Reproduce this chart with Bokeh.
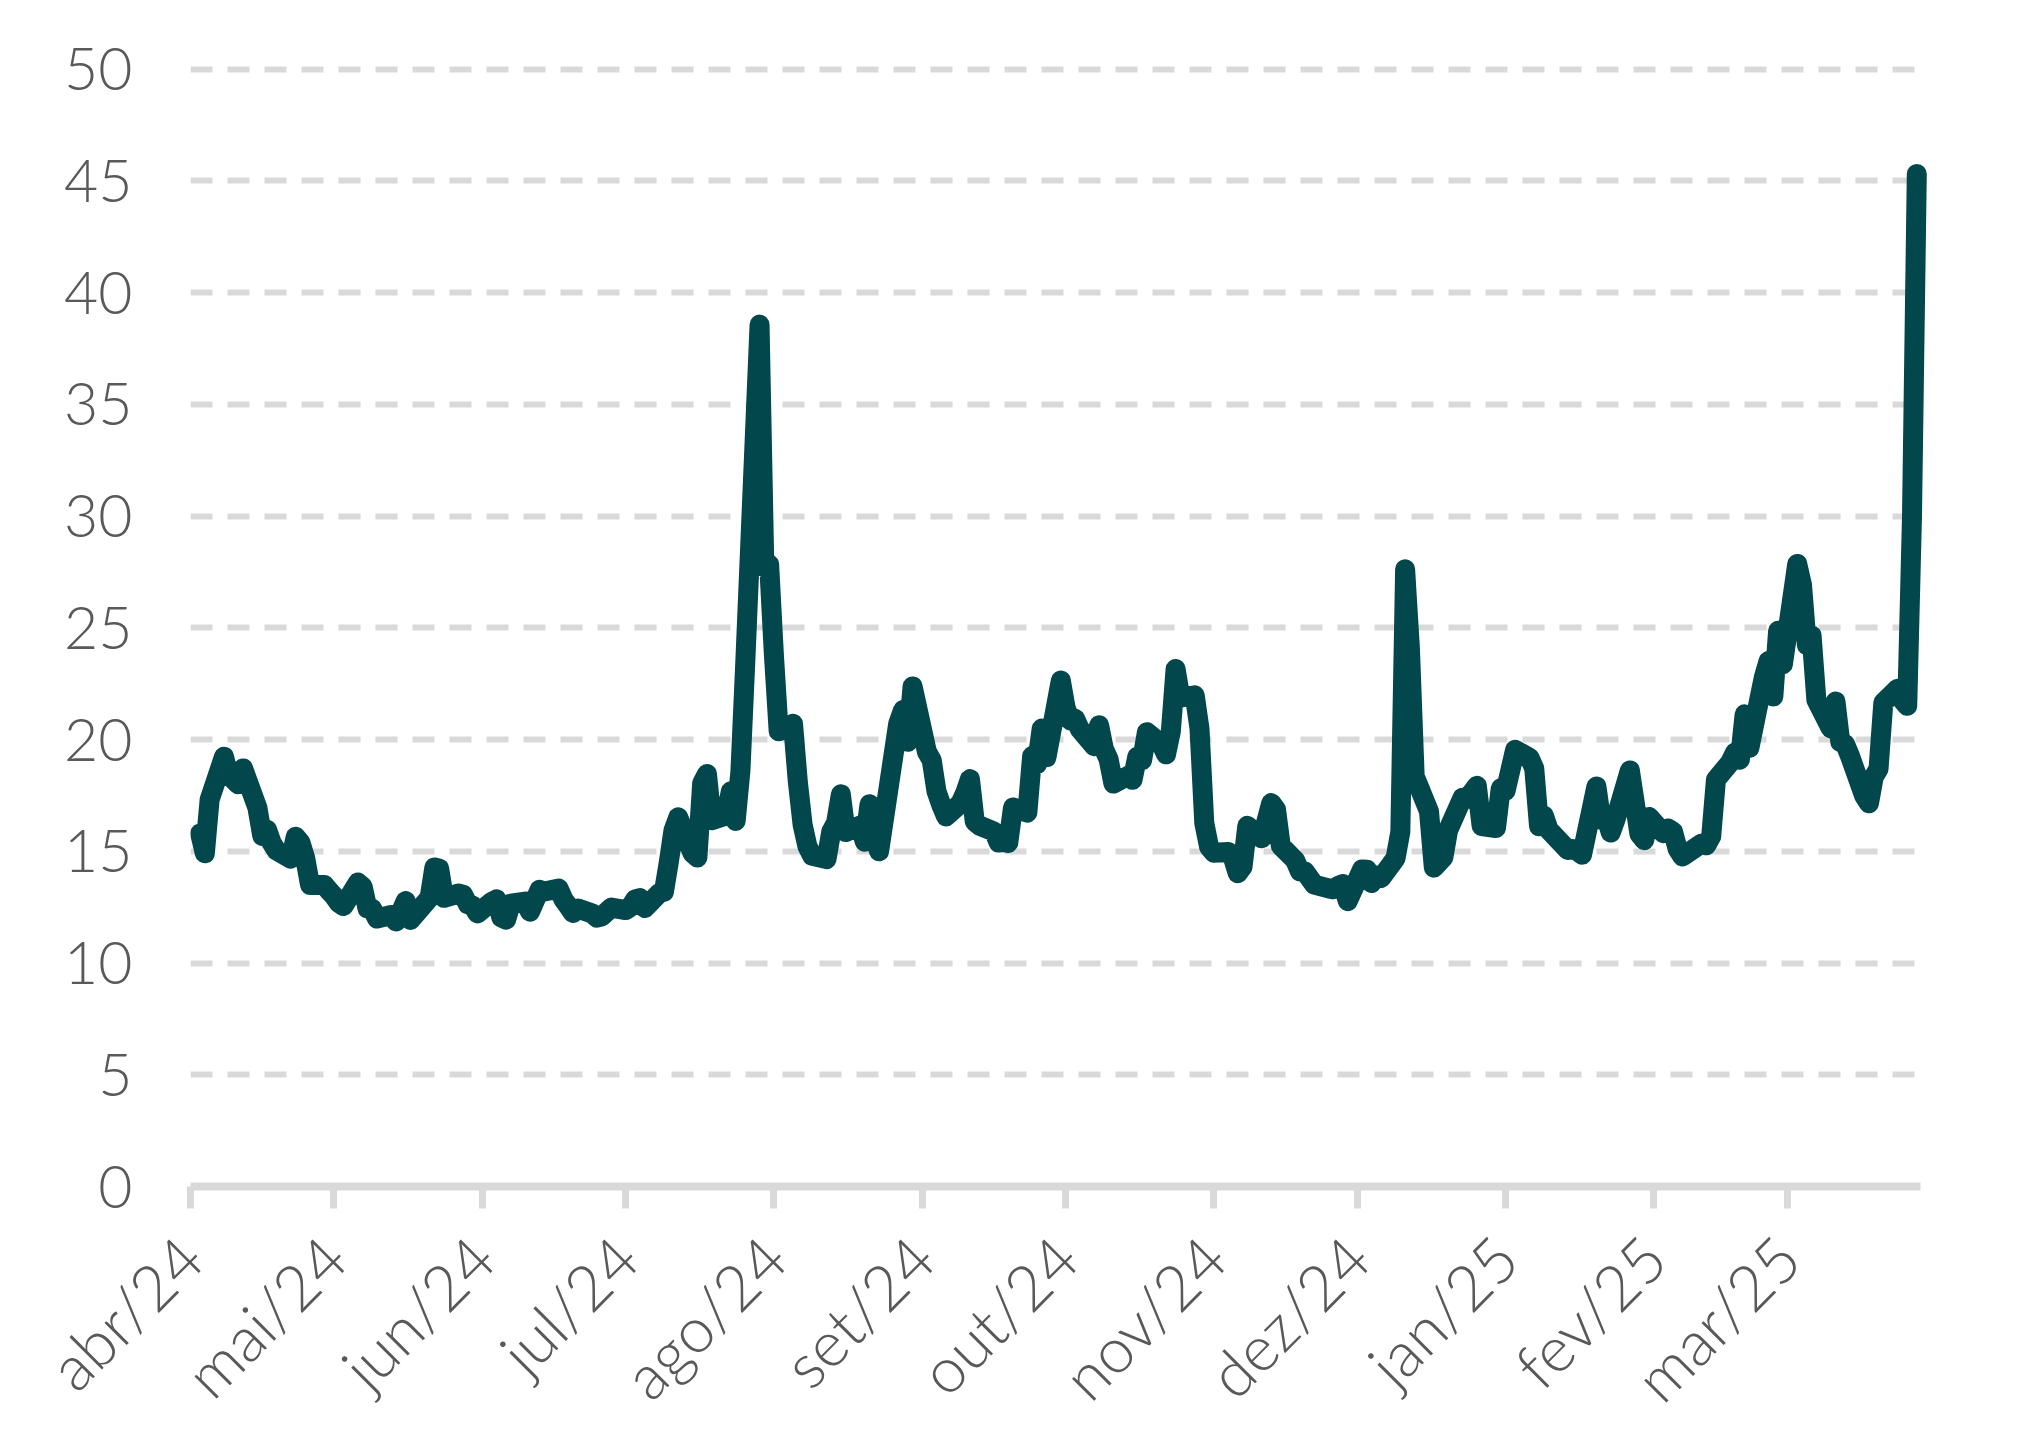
import math
import pandas as pd
from bokeh.plotting import figure
from bokeh.models import FixedTicker, Range1d, ColumnDataSource
from bokeh.embed import file_html
from bokeh.resources import INLINE

# ---- dados (datas como aparecem no gráfico, valores diários) ----
datas = [
    "2024-04-03", "2024-04-04", "2024-04-05", "2024-04-08", "2024-04-09", "2024-04-10", "2024-04-11", "2024-04-12",
    "2024-04-15", "2024-04-16", "2024-04-17", "2024-04-18", "2024-04-19", "2024-04-22", "2024-04-23", "2024-04-24",
    "2024-04-25", "2024-04-26", "2024-04-29", "2024-04-30",
    "2024-05-01", "2024-05-02", "2024-05-03", "2024-05-06", "2024-05-07", "2024-05-08", "2024-05-09", "2024-05-10",
    "2024-05-13", "2024-05-14", "2024-05-15", "2024-05-16", "2024-05-17", "2024-05-21", "2024-05-22", "2024-05-23",
    "2024-05-24", "2024-05-27", "2024-05-28", "2024-05-29", "2024-05-30", "2024-05-31",
    "2024-06-03", "2024-06-04", "2024-06-05", "2024-06-06", "2024-06-07", "2024-06-10", "2024-06-11", "2024-06-13",
    "2024-06-14", "2024-06-17", "2024-06-18", "2024-06-19", "2024-06-20", "2024-06-21", "2024-06-24", "2024-06-25",
    "2024-06-26", "2024-06-28",
    "2024-07-01", "2024-07-02", "2024-07-03", "2024-07-04", "2024-07-05", "2024-07-08", "2024-07-09", "2024-07-10",
    "2024-07-11", "2024-07-12", "2024-07-15", "2024-07-16", "2024-07-17", "2024-07-18", "2024-07-19", "2024-07-22",
    "2024-07-23", "2024-07-24", "2024-07-25", "2024-07-26", "2024-07-29", "2024-07-30", "2024-07-31",
    "2024-08-01", "2024-08-02", "2024-08-05", "2024-08-06", "2024-08-07", "2024-08-08", "2024-08-09", "2024-08-12",
    "2024-08-13", "2024-08-14", "2024-08-15", "2024-08-16", "2024-08-19", "2024-08-20", "2024-08-21", "2024-08-22",
    "2024-08-23", "2024-08-27", "2024-08-28", "2024-08-29", "2024-08-30",
    "2024-09-02", "2024-09-03", "2024-09-04", "2024-09-05", "2024-09-06", "2024-09-09", "2024-09-10", "2024-09-11",
    "2024-09-12", "2024-09-13", "2024-09-16", "2024-09-17", "2024-09-18", "2024-09-19", "2024-09-20", "2024-09-23",
    "2024-09-24", "2024-09-25", "2024-09-26", "2024-09-27", "2024-09-30",
    "2024-10-01", "2024-10-02", "2024-10-03", "2024-10-04", "2024-10-07", "2024-10-08", "2024-10-09", "2024-10-10",
    "2024-10-11", "2024-10-14", "2024-10-15", "2024-10-16", "2024-10-17", "2024-10-18", "2024-10-21", "2024-10-22",
    "2024-10-23", "2024-10-24", "2024-10-25", "2024-10-28", "2024-10-29", "2024-10-30", "2024-10-31",
    "2024-11-01", "2024-11-04", "2024-11-05", "2024-11-06", "2024-11-07", "2024-11-08", "2024-11-11", "2024-11-12",
    "2024-11-13", "2024-11-14", "2024-11-15", "2024-11-18", "2024-11-19", "2024-11-20", "2024-11-22", "2024-11-25",
    "2024-11-26", "2024-11-27", "2024-11-28", "2024-11-29",
    "2024-12-02", "2024-12-03", "2024-12-04", "2024-12-05", "2024-12-06", "2024-12-09", "2024-12-10", "2024-12-11",
    "2024-12-12", "2024-12-13", "2024-12-16", "2024-12-17", "2024-12-19", "2024-12-20", "2024-12-23", "2024-12-24",
    "2024-12-26", "2024-12-27", "2024-12-30", "2024-12-31",
    "2025-01-01", "2025-01-03", "2025-01-06", "2025-01-07", "2025-01-08", "2025-01-09", "2025-01-10", "2025-01-14",
    "2025-01-15", "2025-01-16", "2025-01-17", "2025-01-20", "2025-01-21", "2025-01-22", "2025-01-23", "2025-01-24",
    "2025-01-27", "2025-01-28", "2025-01-29", "2025-01-30", "2025-01-31",
    "2025-02-03", "2025-02-04", "2025-02-05", "2025-02-06", "2025-02-07", "2025-02-11", "2025-02-12", "2025-02-13",
    "2025-02-14", "2025-02-17", "2025-02-18", "2025-02-19", "2025-02-20", "2025-02-21", "2025-02-24", "2025-02-25",
    "2025-02-26", "2025-02-27", "2025-02-28",
    "2025-03-03", "2025-03-04", "2025-03-05", "2025-03-06", "2025-03-07", "2025-03-10", "2025-03-11", "2025-03-12",
    "2025-03-13", "2025-03-14", "2025-03-17", "2025-03-18", "2025-03-19", "2025-03-20", "2025-03-21", "2025-03-24",
    "2025-03-25", "2025-03-26", "2025-03-27", "2025-03-28",
]

valores = [
    15.80, 14.91, 17.31, 19.23, 18.40, 18.21, 18.00, 18.71, 16.94, 15.69, 15.97, 15.37, 15.03, 14.67, 15.65, 15.39,
    14.68, 13.49, 13.49, 13.23,
    13.00, 12.69, 12.55, 13.60, 13.42, 12.45, 12.42, 11.99, 12.15, 11.86, 12.29, 12.77, 11.93, 12.92, 14.28, 14.22,
    12.92, 13.11, 13.06, 12.63, 12.58, 12.22,
    12.74, 12.85, 12.04, 11.94, 12.66, 12.75, 12.30, 13.28, 13.20, 13.33, 12.84, 12.55, 12.24, 12.44, 12.22, 12.03,
    12.09, 12.48,
    12.37, 12.51, 12.85, 12.91, 12.46, 13.12, 13.19, 14.48, 15.93, 16.52, 14.91, 14.72, 18.04, 18.46, 16.39, 16.60,
    17.69, 16.36, 18.59, 23.39, 38.57, 27.71, 27.85,
    23.79, 20.37, 20.71, 18.12, 16.19, 15.23, 14.80, 14.65, 15.88, 16.27, 17.55, 15.86, 16.15, 15.43, 17.11, 15.65,
    15.00, 20.72, 21.32, 19.90, 22.38,
    19.45, 19.08, 17.69, 17.07, 16.56, 17.14, 17.61, 18.23, 16.33, 16.15, 15.89, 15.39, 15.41, 15.37, 16.96, 16.73,
    19.26, 18.90, 20.49, 19.21, 22.64,
    21.42, 20.86, 20.93, 20.46, 19.70, 20.64, 19.58, 19.11, 18.03, 18.37, 18.20, 19.24, 19.08, 20.33, 19.80, 19.34,
    20.35, 23.16, 21.88, 21.98, 20.49, 16.27, 15.20,
    14.94, 14.97, 14.71, 14.02, 14.31, 16.14, 15.58, 16.35, 17.16, 16.87, 15.24, 14.60, 14.10, 14.10, 13.51, 13.34,
    13.30, 13.45, 13.54, 12.77,
    14.19, 14.18, 13.58, 13.92, 13.81, 14.69, 15.87, 27.62, 24.09, 18.36, 16.78, 14.27, 14.73, 15.95, 17.40, 17.35,
    17.93, 16.13, 16.04, 17.82,
    17.70, 19.54, 19.19, 18.71, 16.12, 16.60, 15.97, 15.06, 15.10, 15.02, 14.85, 17.90, 16.41, 16.56, 15.84, 16.43,
    18.62, 17.21, 15.77, 15.50, 16.54,
    15.81, 16.02, 15.89, 15.10, 14.77, 15.35, 15.27, 15.66, 18.21, 18.98, 19.43, 19.10, 21.13, 19.63, 22.78, 23.51,
    21.93, 24.87, 23.37,
    27.86, 26.92, 24.23, 24.66, 21.77, 20.51, 21.70, 19.90, 19.80, 19.28, 17.48, 17.15, 18.33, 18.69, 21.65, 22.28,
    21.77, 21.51, 30.02, 45.31,
]

meses_ticks = [
    "2024-04-01", "2024-05-01", "2024-06-01", "2024-07-01", "2024-08-01", "2024-09-01",
    "2024-10-01", "2024-11-01", "2024-12-01", "2025-01-01", "2025-02-01", "2025-03-01",
]
meses_rotulos = ["abr/24", "mai/24", "jun/24", "jul/24", "ago/24", "set/24",
                 "out/24", "nov/24", "dez/24", "jan/25", "fev/25", "mar/25"]
y_ticks = [0, 5, 10, 15, 20, 25, 30, 35, 40, 45, 50]

# ---- figura ----
x = pd.to_datetime(datas)
src = ColumnDataSource(dict(x=x, y=valores))

x_inicio = pd.Timestamp("2024-04-01")
x_fim = pd.Timestamp("2025-03-30 05:45")
fim_eixo = pd.Timestamp(datas[-1]) + pd.Timedelta(hours=18)

FONTE = "Lato Light"
COR_TEXTO = "#595959"
CINZA = "#d9d9d9"

p = figure(width=2032, height=1444, x_axis_type="datetime",
           x_range=Range1d(x_inicio, x_fim), y_range=Range1d(0, 50.3),
           output_backend="svg", toolbar_location=None,
           min_border_left=190, min_border_right=105,
           min_border_top=62, min_border_bottom=255)
p.background_fill_color = "white"
p.border_fill_color = "white"
p.outline_line_color = None

p.line("x", "y", source=src, line_color="#02474c", line_width=20,
       line_join="round", line_cap="round")

tick_ms = [float(pd.Timestamp(t).value // 10**6) for t in meses_ticks]
p.xaxis.ticker = FixedTicker(ticks=tick_ms)
p.xaxis.major_label_overrides = dict(zip(tick_ms, meses_rotulos))
p.xaxis.major_label_orientation = math.pi / 4
p.xaxis.bounds = (x_inicio, fim_eixo)
p.xaxis.axis_line_color = CINZA
p.xaxis.axis_line_width = 8
p.xaxis.major_tick_line_color = CINZA
p.xaxis.major_tick_line_width = 7
p.xaxis.major_tick_out = 22
p.xaxis.major_tick_in = 0
p.xaxis.minor_tick_line_color = None
p.xaxis.major_label_standoff = 38
p.xaxis.major_label_text_font = FONTE
p.xaxis.major_label_text_font_size = "63px"
p.xaxis.major_label_text_color = COR_TEXTO

p.yaxis.ticker = FixedTicker(ticks=y_ticks)
p.yaxis.axis_line_color = None
p.yaxis.major_tick_line_color = None
p.yaxis.minor_tick_line_color = None
p.yaxis.major_tick_out = 0
p.yaxis.major_tick_in = 0
p.yaxis.major_label_standoff = 58
p.yaxis.major_label_text_font = FONTE
p.yaxis.major_label_text_font_size = "59px"
p.yaxis.major_label_text_color = COR_TEXTO

p.xgrid.visible = False
p.ygrid.grid_line_color = CINZA
p.ygrid.grid_line_width = 6
p.ygrid.grid_line_dash = "22 15"

open("out.html", "w").write(file_html(p, INLINE))
